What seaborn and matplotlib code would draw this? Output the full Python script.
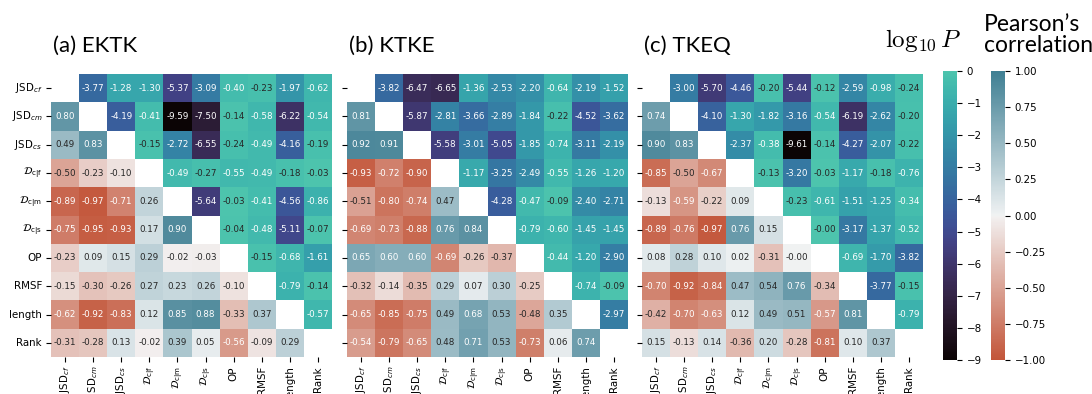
import numpy as np
import pandas as pd
import seaborn as sns
import matplotlib
matplotlib.use("Agg")
import matplotlib.pyplot as plt
from matplotlib.colors import ListedColormap

# ---------------- data ----------------
variables = [r"JSD$_{cf}$", r"JSD$_{cm}$", r"JSD$_{cs}$",
             r"$\mathcal{D}_{\mathrm{c|f}}$", r"$\mathcal{D}_{\mathrm{c|m}}$",
             r"$\mathcal{D}_{\mathrm{c|s}}$", "OP", "RMSF", "length", "Rank"]

panel_titles = ["(a) EKTK", "(b) KTKE", "(c) TKEQ"]

N = np.nan
# lower triangle: Pearson's correlation; upper triangle: log10 P
ektk = [
    [N, -3.77, -1.28, -1.30, -5.37, -3.09, -0.40, -0.23, -1.97, -0.62],
    [0.80, N, -4.19, -0.41, -9.59, -7.50, -0.14, -0.58, -6.22, -0.54],
    [0.49, 0.83, N, -0.15, -2.72, -6.55, -0.24, -0.49, -4.16, -0.19],
    [-0.50, -0.23, -0.10, N, -0.49, -0.27, -0.55, -0.49, -0.18, -0.03],
    [-0.89, -0.97, -0.71, 0.26, N, -5.64, -0.03, -0.41, -4.56, -0.86],
    [-0.75, -0.95, -0.93, 0.17, 0.90, N, -0.04, -0.48, -5.11, -0.07],
    [-0.23, 0.09, 0.15, 0.29, -0.02, -0.03, N, -0.15, -0.68, -1.61],
    [-0.15, -0.30, -0.26, 0.27, 0.23, 0.26, -0.10, N, -0.79, -0.14],
    [-0.62, -0.92, -0.83, 0.12, 0.85, 0.88, -0.33, 0.37, N, -0.57],
    [-0.31, -0.28, 0.13, -0.02, 0.39, 0.05, -0.56, -0.09, 0.29, N],
]
ktke = [
    [N, -3.82, -6.47, -6.65, -1.36, -2.53, -2.20, -0.64, -2.19, -1.52],
    [0.81, N, -5.87, -2.81, -3.66, -2.89, -1.84, -0.22, -4.52, -3.62],
    [0.92, 0.91, N, -5.58, -3.01, -5.05, -1.85, -0.74, -3.11, -2.19],
    [-0.93, -0.72, -0.90, N, -1.17, -3.25, -2.49, -0.55, -1.26, -1.20],
    [-0.51, -0.80, -0.74, 0.47, N, -4.28, -0.47, -0.09, -2.40, -2.71],
    [-0.69, -0.73, -0.88, 0.76, 0.84, N, -0.79, -0.60, -1.45, -1.45],
    [0.65, 0.60, 0.60, -0.69, -0.26, -0.37, N, -0.44, -1.20, -2.90],
    [-0.32, -0.14, -0.35, 0.29, 0.07, 0.30, -0.25, N, -0.74, -0.09],
    [-0.65, -0.85, -0.75, 0.49, 0.68, 0.53, -0.48, 0.35, N, -2.97],
    [-0.54, -0.79, -0.65, 0.48, 0.71, 0.53, -0.73, 0.06, 0.74, N],
]
tkeq = [
    [N, -3.00, -5.70, -4.46, -0.20, -5.44, -0.12, -2.59, -0.98, -0.24],
    [0.74, N, -4.10, -1.30, -1.82, -3.16, -0.54, -6.19, -2.62, -0.20],
    [0.90, 0.83, N, -2.37, -0.38, -9.61, -0.14, -4.27, -2.07, -0.22],
    [-0.85, -0.50, -0.67, N, -0.13, -3.20, -0.03, -1.17, -0.18, -0.76],
    [-0.13, -0.59, -0.22, 0.09, N, -0.23, -0.61, -1.51, -1.25, -0.34],
    [-0.89, -0.76, -0.97, 0.76, 0.15, N, -0.0, -3.17, -1.37, -0.52],
    [0.08, 0.28, 0.10, 0.02, -0.31, -0.0, N, -0.69, -1.70, -3.82],
    [-0.70, -0.92, -0.84, 0.47, 0.54, 0.76, -0.34, N, -3.77, -0.15],
    [-0.42, -0.70, -0.63, 0.12, 0.49, 0.51, -0.57, 0.81, N, -0.79],
    [0.15, -0.13, 0.14, -0.36, 0.20, -0.28, -0.81, 0.10, 0.37, N],
]
panels = [ektk, ktke, tkeq]

# ---------------- styling ----------------
W, H = 1092, 394
fig = plt.figure(figsize=(W / 100, H / 100), dpi=100)

mako = sns.color_palette("mako", as_cmap=True)
p_cmap = ListedColormap(mako(np.linspace(0.0, 0.76, 256)))
r_cmap = sns.diverging_palette(20, 220, as_cmap=True)

def fx(px):
    return px / W

def fy(py):
    return 1 - py / H

ax_lefts = [51, 347, 642]
ax_w, top, bottom = 281, 74, 357
cax1 = fig.add_axes([fx(943), fy(360), fx(14), fy(71) - fy(360)])
cax2 = fig.add_axes([fx(991), fy(360), fx(14), fy(71) - fy(360)])

n = len(variables)
upper = np.triu(np.ones((n, n), dtype=bool), k=1)
lower = np.tril(np.ones((n, n), dtype=bool), k=-1)

TICK_FS = 7.4
for i, (vals, title) in enumerate(zip(panels, panel_titles)):
    ax = fig.add_axes([fx(ax_lefts[i]), fy(bottom), fx(ax_w), fy(top) - fy(bottom)])
    df = pd.DataFrame(np.array(vals, dtype=float), index=variables, columns=variables)
    sns.heatmap(df, mask=~upper, cmap=p_cmap, vmin=-9, vmax=0, annot=True, fmt=".2f",
                annot_kws={"size": 6.3}, cbar=(i == 0), cbar_ax=cax1 if i == 0 else None,
                ax=ax, square=False)
    sns.heatmap(df, mask=~lower, cmap=r_cmap, vmin=-1, vmax=1, annot=True, fmt=".2f",
                annot_kws={"size": 6.3}, cbar=(i == 0), cbar_ax=cax2 if i == 0 else None,
                ax=ax, square=False)
    ax.set_xticks(np.arange(n) + 0.5)
    ax.set_xticklabels(variables, rotation=90, fontsize=TICK_FS)
    ax.set_yticks(np.arange(n) + 0.5)
    if i == 0:
        ax.set_yticklabels(variables, rotation=0, fontsize=TICK_FS)
    else:
        ax.set_yticklabels([])
    ax.tick_params(length=3.5, width=0.8, pad=3)
    fig.text(fx(ax_lefts[i] + 2), fy(46), title, fontsize=16, family="Lato",
             ha="left", va="center")

cax1.set_yticks(np.arange(-9, 1, 1))
cax1.tick_params(labelsize=TICK_FS, length=3.5, width=0.8)
cax2.set_yticks(np.linspace(-1, 1, 9))
cax2.set_yticklabels([f"{v:.2f}".replace("-", "\u2212") for v in np.linspace(-1, 1, 9)])
cax2.tick_params(labelsize=TICK_FS, length=3.5, width=0.8)

fig.text(fx(885), fy(41), r"$\log_{10} P$", fontsize=18, ha="left", va="center",
         math_fontfamily="cm")
fig.text(fx(984), fy(35), "Pearson\u2019s\ncorrelation", fontsize=16.5, family="Lato",
         ha="left", va="center", linespacing=1.0)

fig.savefig("out.png", dpi=100)
